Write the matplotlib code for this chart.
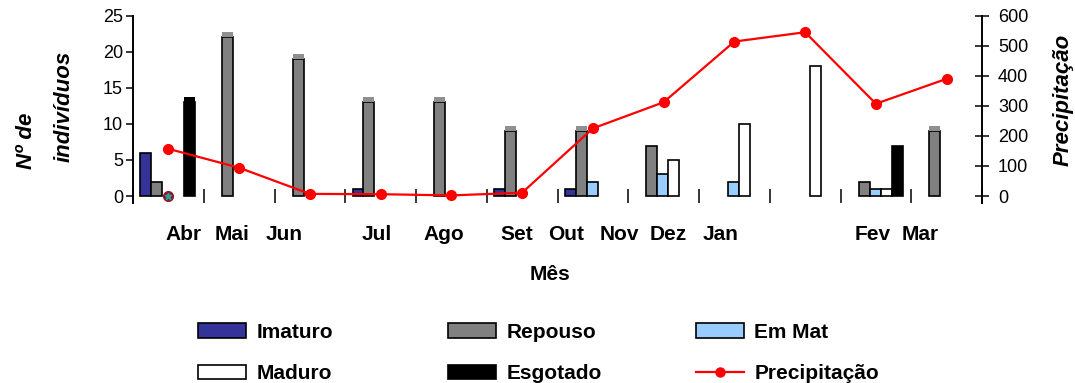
import numpy as np
import matplotlib
matplotlib.use("Agg")
import matplotlib.pyplot as plt
from matplotlib.patches import Patch
from matplotlib.lines import Line2D

plt.rcParams['font.family'] = ['Liberation Sans', 'DejaVu Sans']

# dados mensais
meses = ['Abr', 'Mai', 'Jun', 'Jul', 'Ago', 'Set', 'Out', 'Nov', 'Dez', 'Jan', 'Fev', 'Mar']
imaturo = np.array([6, 0, 0, 1, 0, 1, 1, 0, 0, 0, 0, 0])
repouso = np.array([2, 22, 19, 13, 13, 9, 9, 7, 0, 0, 2, 9])
em_mat = np.array([0, 0, 0, 0, 0, 0, 2, 3, 2, 0, 1, 0])
maduro = np.array([0, 0, 0, 0, 0, 0, 0, 5, 10, 18, 1, 0])
esgotado = np.array([13, 0, 0, 0, 0, 0, 0, 0, 0, 0, 7, 0])
precipitacao = np.array([157, 94, 7, 6, 2, 11, 225, 312, 514, 545, 307, 390])

# posicao dos rotulos dos meses (em unidades de categoria)
pos_rotulos = [0.71, 1.40, 2.13, 3.45, 4.40, 5.43, 6.12, 6.88, 7.56, 8.31, 10.45, 11.12]

series = [
    ('Imaturo', imaturo, '#333399'),
    ('Repouso', repouso, '#808080'),
    ('Em Mat', em_mat, '#99ccff'),
    ('Maduro', maduro, '#ffffff'),
    ('Esgotado', esgotado, '#000000'),
]

fig = plt.figure(figsize=(10.75, 3.83), dpi=100)
ax = fig.add_axes([133/1075, 1 - 203/383, (982 - 133)/1075, (203 - 15.7)/383])

x = np.arange(len(meses))
w = 0.155
offsets = (np.arange(5) - 2) * w + 0.49

for k, (nome, vals, cor) in enumerate(series):
    idx = vals > 0
    ax.bar(x[idx] + offsets[k], vals[idx], w, color=cor, edgecolor='black',
           linewidth=1.2, zorder=2)
    # topo em relevo nas barras mais altas
    if nome in ('Repouso', 'Esgotado'):
        alto = vals >= 9
        topo = '#8f8f8f' if nome == 'Repouso' else '#000000'
        ax.bar(x[alto] + offsets[k], 0.7, w, bottom=vals[alto], color=topo,
               linewidth=0, zorder=2)

# marcador solto na primeira categoria
ax.plot(x[0] + offsets[2], em_mat[0], 'o', color='#8b1a2a', ms=7, clip_on=False, zorder=3)
ax.plot(x[0] + offsets[2], em_mat[0], '*', color='#2aa0a0', ms=5, clip_on=False, zorder=4)

ax.set_xlim(0, 12)
ax.set_ylim(-0.97, 25)
ax.set_yticks(np.arange(0, 26, 5))
ax.set_xticks(np.arange(13))
ax.spines['bottom'].set_position(('data', 0))
ax.spines['bottom'].set_visible(False)
ax.spines['top'].set_visible(False)
ax.spines['right'].set_visible(False)
ax.spines['left'].set_linewidth(1.4)
ax.tick_params(axis='x', direction='inout', length=9.5, width=1.1, labelbottom=False)
ax.tick_params(axis='y', direction='out', length=5.4, width=1.1, pad=1.8, labelsize=13)

for rot, p in zip(meses, pos_rotulos):
    ax.text(p, -0.1975, rot, transform=ax.get_xaxis_transform(), ha='center',
            va='baseline', fontsize=15, fontweight='bold')

ax2 = ax.twinx()
ax2.plot(x + 0.5, precipitacao, '-o', color='#ff0000', lw=1.6, ms=7, zorder=5)
ax2.set_ylim(-0.97 * 24, 600)
ax2.set_yticks(np.arange(0, 601, 100))
for s in ('top', 'bottom', 'left'):
    ax2.spines[s].set_visible(False)
ax2.spines['right'].set_linewidth(1.4)
ax2.tick_params(axis='y', direction='inout', length=9.5, width=1.1, pad=6.8, labelsize=13)

# titulos dos eixos
fig.text(27/1075, 1 - 141/383, 'Nº de', rotation=90, ha='center', va='center',
         fontsize=16, fontweight='bold', style='italic')
fig.text(64/1075, 1 - 106/383, 'indivíduos', rotation=90, ha='center', va='center',
         fontsize=16, fontweight='bold', style='italic')
fig.text(1063/1075, 1 - 100/383, 'Precipitação', rotation=90, ha='center', va='center',
         fontsize=16, fontweight='bold', style='italic')
fig.text(550/1075, 1 - 280/383, 'Mês', ha='center', va='baseline',
         fontsize=15, fontweight='bold')

# legenda em tres colunas
def item(nome):
    for n, _, cor in series:
        if n == nome:
            return Patch(facecolor=cor, edgecolor='black', linewidth=1.2)
    return Line2D([], [], color='#ff0000', lw=1.6, marker='o', ms=6.5)

colunas = [(198, ['Imaturo', 'Maduro']),
           (448, ['Repouso', 'Esgotado']),
           (696, ['Em Mat', 'Precipitação'])]
for x0, nomes in colunas:
    fig.legend([item(n) for n in nomes], nomes, loc='upper left',
               bbox_to_anchor=(x0/1075, 1 - 323/383), frameon=False,
               borderpad=0, borderaxespad=0, handlelength=2.3, handleheight=0.7,
               handletextpad=0.5, labelspacing=1.06,
               prop={'size': 15, 'weight': 'bold'})

fig.savefig('out.png', dpi=100)
